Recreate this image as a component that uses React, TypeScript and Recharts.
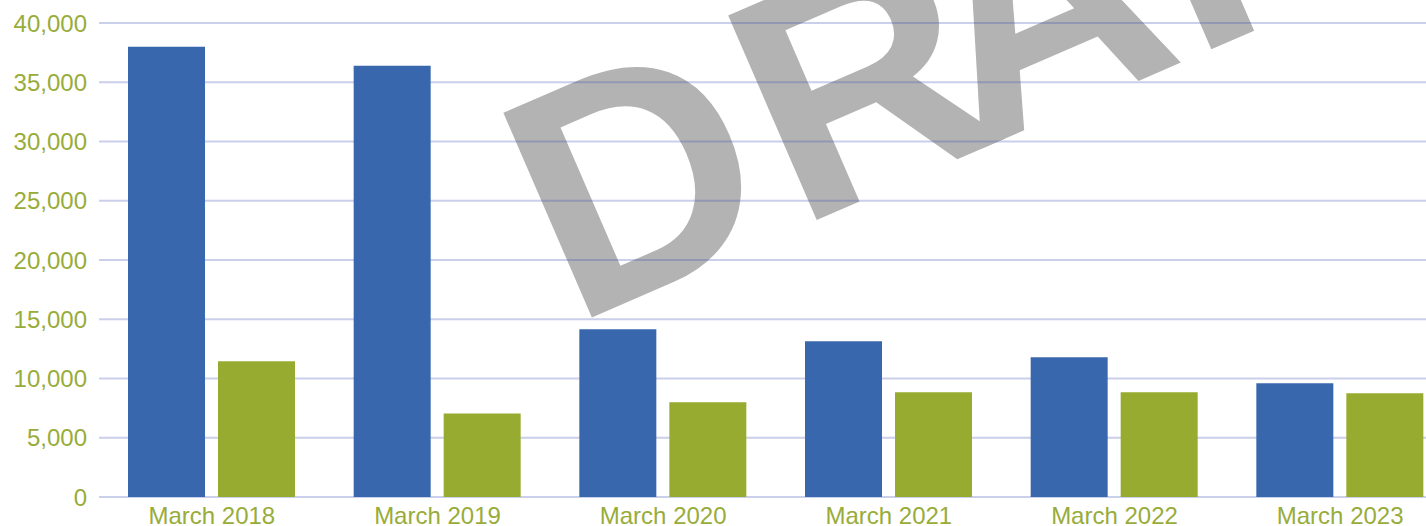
import React from 'react';
import { BarChart, Bar, XAxis, YAxis, CartesianGrid } from 'recharts';

const categories = ['March 2018', 'March 2019', 'March 2020', 'March 2021', 'March 2022', 'March 2023'];
const blueValues = [38000, 36400, 14150, 13150, 11800, 9600];
const greenValues = [11450, 7050, 8000, 8850, 8850, 8750];
const yTicks = [0, 5000, 10000, 15000, 20000, 25000, 30000, 35000, 40000];
const watermarkText = 'DRAFT';

const data = categories.map((c, i) => ({ label: c, blue: blueValues[i], green: greenValues[i] }));

const labelColor = '#98ac3a';
const fontFamily = '"Liberation Sans", Arial, sans-serif';

export default function App() {
  return (
    <div style={{ position: 'fixed', left: 0, top: 0, width: 1426, height: 526, overflow: 'hidden', background: '#ffffff' }}>
      <svg style={{ position: 'absolute', left: 0, top: 0 }} width={1426} height={526}>
        <text
          x={572}
          y={326}
          dx="0 11 -41 3 0"
          fill="#b3b3b3"
          fontFamily={fontFamily}
          fontWeight="bold"
          fontSize={324}
          transform="rotate(-23.4 572 326)"
        >
          {watermarkText}
        </text>
      </svg>
      <div style={{ position: 'absolute', left: 0, top: 0 }}>
        <BarChart
          width={1460}
          height={540}
          data={data}
          margin={{ top: 23, right: 7, left: 0, bottom: 0 }}
          barCategoryGap={29}
          barGap={13}
        >
          <CartesianGrid vertical={false} stroke="#3a4fb0" strokeOpacity={0.27} strokeWidth={2} />
          <XAxis
            dataKey="label"
            axisLine={false}
            tickLine={false}
            tickSize={0}
            tickMargin={10}
            height={43}
            interval={0}
            tick={{ fill: labelColor, fontSize: 24, fontFamily }}
          />
          <YAxis
            domain={[0, 40000]}
            ticks={yTicks}
            width={99}
            axisLine={false}
            tickLine={false}
            tickSize={0}
            tickMargin={12}
            interval={0}
            tick={{ fill: labelColor, fontSize: 24, fontFamily }}
            tickFormatter={(v: number) => v.toLocaleString('en-US')}
          />
          <Bar dataKey="blue" fill="#3867ae" barSize={77} isAnimationActive={false} />
          <Bar dataKey="green" fill="#98ab31" barSize={77} isAnimationActive={false} />
        </BarChart>
      </div>
    </div>
  );
}
